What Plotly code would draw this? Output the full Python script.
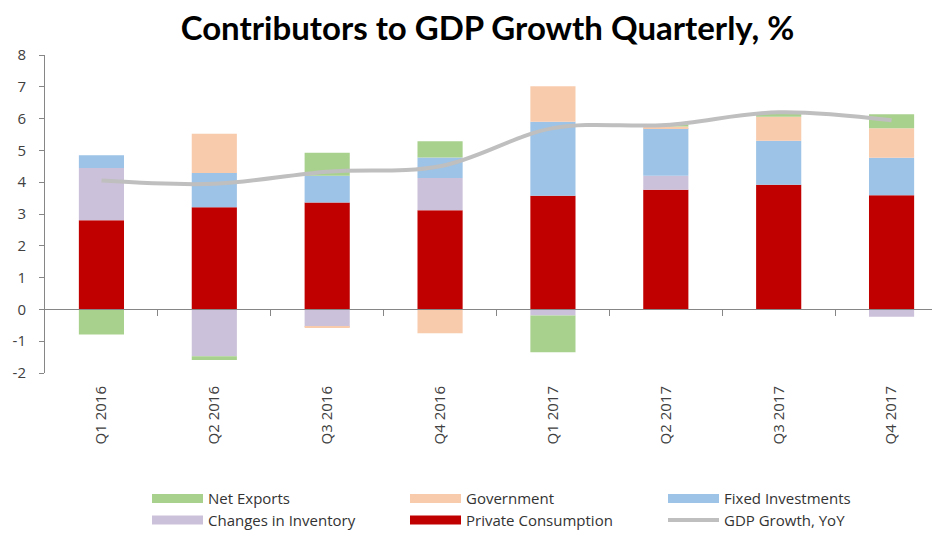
import plotly.graph_objects as go

quarters = ["Q1 2016", "Q2 2016", "Q3 2016", "Q4 2016", "Q1 2017", "Q2 2017", "Q3 2017", "Q4 2017"]
private_consumption = [2.80, 3.21, 3.36, 3.12, 3.57, 3.76, 3.92, 3.59]
changes_inventory = [1.65, -1.47, -0.55, 1.01, -0.19, 0.44, 0.00, -0.23]
fixed_investments = [0.40, 1.08, 0.84, 0.65, 2.33, 1.50, 1.38, 1.18]
government = [0.00, 1.23, -0.03, -0.75, 1.12, 0.05, 0.76, 0.93]
net_exports = [-0.79, -0.12, 0.73, 0.51, -1.16, 0.07, 0.12, 0.44]
gdp_growth = [4.05, 3.95, 4.33, 4.50, 5.70, 5.80, 6.20, 5.95]

y_tick_values = [-2, -1, 0, 1, 2, 3, 4, 5, 6, 7, 8]
y_tick_labels = ["-2", "-1", "0", "1", "2", "3", "4", "5", "6", "7", "8"]

series = [
    ("Private Consumption", private_consumption, "#C00000", "legend2", 5),
    ("Changes in Inventory", changes_inventory, "#CCC1DA", "legend2", 4),
    ("Fixed Investments", fixed_investments, "#9DC3E6", "legend", 3),
    ("Government", government, "#F8CBAD", "legend", 2),
    ("Net Exports", net_exports, "#A9D18E", "legend", 1),
]

FONT = "Open Sans"
fig = go.Figure()

for name, vals, color, lg, rank in series:
    fig.add_trace(go.Bar(x=quarters, y=vals, name=name, marker=dict(color=color, line=dict(width=0)),
                         showlegend=False, legendgroup=name))
    # legend entry (wide flat swatch like the original)
    fig.add_trace(go.Scatter(x=[None], y=[None], name=name, mode="lines", legendgroup=name,
                             line=dict(color=color, width=9), legend=lg, legendrank=rank,
                             hoverinfo="skip"))

fig.add_trace(go.Scatter(x=quarters, y=gdp_growth, name="GDP Growth, YoY", mode="lines",
                         line=dict(color="#BFBFBF", width=4, shape="spline", smoothing=1),
                         legend="legend2", legendrank=6))

# helper axis drawn at y=0 carrying the category-boundary tick marks
fig.add_trace(go.Scatter(x=[None], y=[None], xaxis="x2", showlegend=False, hoverinfo="skip"))

xr = [-0.5, 7.5]
legend_common = dict(orientation="h", xref="container", yref="container", yanchor="middle",
                     xanchor="left", font=dict(family=FONT, size=15, color="#333333"),
                     entrywidth=192, entrywidthmode="pixels", bgcolor="rgba(0,0,0,0)",
                     itemwidth=51, tracegroupgap=0, traceorder="normal")

fig.update_layout(
    width=940, height=535,
    barmode="relative", bargap=0.6,
    paper_bgcolor="white", plot_bgcolor="white",
    margin=dict(l=37, r=0, t=47, b=170),
    title=dict(text="<b>Contributors to GDP Growth Quarterly, %</b>", x=479.5 / 940, xanchor="center",
               y=1 - 20.5 / 535, yanchor="middle", font=dict(family="Lato", size=33, color="#000000")),
    font=dict(family=FONT, size=15, color="#404040"),
    xaxis=dict(range=xr, showline=False, ticks="", tickangle=-90, showgrid=False, zeroline=False,
               ticklabelstandoff=9, tickfont=dict(family=FONT, size=15, color="#404040")),
    xaxis2=dict(overlaying="x", anchor="free", position=0.2, type="linear", range=xr,
                showline=True, linecolor="#868686", linewidth=1, ticks="outside", ticklen=6,
                tickcolor="#868686", tickvals=[0.5, 1.5, 2.5, 3.5, 4.5, 5.5, 6.5],
                showticklabels=False, showgrid=False, zeroline=False, side="bottom"),
    yaxis=dict(range=[-2, 8], tickmode="array", tickvals=y_tick_values, ticktext=y_tick_labels,
               showline=True, linecolor="#868686", linewidth=1,
               ticks="outside", ticklen=5, tickcolor="#868686", showgrid=False, zeroline=False,
               ticklabelstandoff=10, tickfont=dict(family=FONT, size=15, color="#404040")),
    legend=dict(x=139 / 940, y=1 - 490.7 / 535, **legend_common),
    legend2=dict(x=139 / 940, y=1 - 512.3 / 535, **legend_common),
    showlegend=True,
)

fig.write_html("out.html")
